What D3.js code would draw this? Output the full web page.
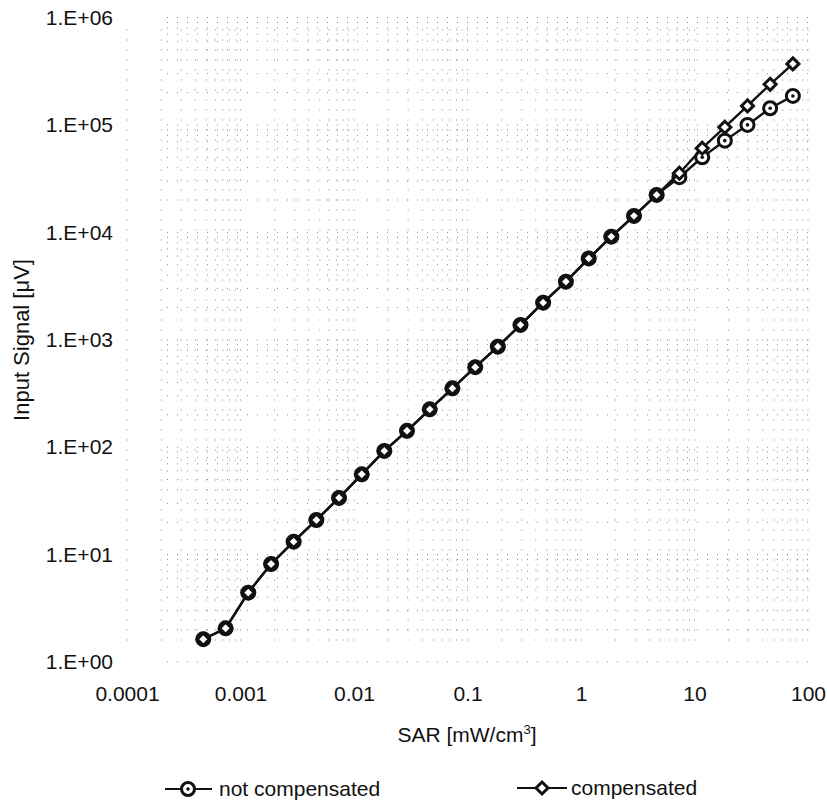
<!DOCTYPE html>
<meta charset="utf-8">
<style>
  body { margin: 0; background: #fff; }
  svg text { font-family: "Liberation Sans", Arial, sans-serif; fill: #111; }
  .grid line { stroke: #8a8a8a; stroke-dasharray: 1,9; stroke-width: 1; }
  .axis path, .axis line { display: none; }
  .axis text { font-size: 21px; }
</style>
<head>
  <title>SAR vs Input Signal</title>
  <script src="https://d3js.org/d3.v7.min.js"></script>
</head>
<body>
<div class="chart"></div>
<script>

// SAR [mW/cm3]
var sar = [0.00047, 0.00074, 0.00117, 0.00186, 0.00294, 0.00466, 0.00738, 0.0117, 0.0185,
           0.0293, 0.0465, 0.0736, 0.117, 0.185, 0.293, 0.464, 0.736, 1.17, 1.85,
           2.93, 4.64, 7.36, 11.7, 18.5, 29.3, 46.4, 73.6];

// input signal [uV]
var notCompensated = [1.63, 2.06, 4.42, 8.17, 13.2, 21.0, 33.7, 55.9, 92.3,
                      142, 225, 353, 555, 862, 1374, 2215, 3473, 5716, 9120,
                      14220, 22300, 32600, 50000, 71400, 100000, 143000, 186000];
var compensated    = [1.63, 2.06, 4.42, 8.17, 13.2, 21.0, 33.7, 55.9, 92.3,
                      142, 225, 353, 555, 862, 1374, 2215, 3473, 5716, 9120,
                      14220, 22300, 35500, 60700, 95200, 150300, 239000, 370000];

var xTicks = [0.0001, 0.001, 0.01, 0.1, 1, 10, 100];
var xTickLabels = ["0.0001", "0.001", "0.01", "0.1", "1", "10", "100"];
var yTicks = [1, 10, 100, 1000, 10000, 100000, 1000000];
var yTickLabels = ["1.E+00", "1.E+01", "1.E+02", "1.E+03", "1.E+04", "1.E+05", "1.E+06"];

var width = 827, height = 804;
var plot = {left: 127, right: 808, top: 17.5, bottom: 662};

var svg = d3.select(".chart").append("svg")
    .attr("width", width)
    .attr("height", height);

var x = d3.scaleLog().domain([0.0001, 100]).range([plot.left, plot.right]);
var y = d3.scaleLog().domain([1, 1000000]).range([plot.bottom, plot.top]);

// faint dotted log grid (what's left of it in the scan)
var xGrid = x.ticks(), yGrid = y.ticks();
var grid = svg.append("g").attr("class", "grid");
grid.selectAll(".gx").data(xGrid).enter().append("line")
    .attr("x1", function(d) { return x(d); }).attr("x2", function(d) { return x(d); })
    .attr("y1", plot.top + 12).attr("y2", plot.bottom - 20);
grid.selectAll(".gy").data(yGrid).enter().append("line")
    .attr("y1", function(d) { return y(d); }).attr("y2", function(d) { return y(d); })
    .attr("x1", plot.left + 40).attr("x2", plot.right);

// axes
var xAxis = d3.axisBottom(x).tickValues(xTicks).tickSize(0)
    .tickFormat(function(d, i) { return xTickLabels[i]; });
svg.append("g")
    .attr("class", "x axis")
    .attr("transform", "translate(0," + (plot.bottom + 24) + ")")
    .call(xAxis)
    .selectAll("text").attr("dy", "0.71em").attr("y", 0);

var yAxis = d3.axisLeft(y).tickValues(yTicks).tickSize(0)
    .tickFormat(function(d, i) { return yTickLabels[i]; });
svg.append("g")
    .attr("class", "y axis")
    .attr("transform", "translate(" + (plot.left - 14) + ",0)")
    .call(yAxis)
    .selectAll("text").attr("x", 0);

// axis titles
var xt = svg.append("text")
    .attr("x", 467).attr("y", 742)
    .attr("text-anchor", "middle")
    .style("font-size", "21px");
xt.append("tspan").text("SAR [mW/cm");
xt.append("tspan").attr("dy", "-8").style("font-size", "13px").text("3");
xt.append("tspan").attr("dy", "8").text("]");

svg.append("text")
    .attr("transform", "translate(29,340) rotate(-90)")
    .attr("text-anchor", "middle")
    .style("font-size", "22px")
    .text("Input Signal [\u03bcV]");

// series
var line = d3.line()
    .x(function(d) { return x(d[0]); })
    .y(function(d) { return y(d[1]); });

var ncData = sar.map(function(s, i) { return [s, notCompensated[i]]; });
var cData = sar.map(function(s, i) { return [s, compensated[i]]; });

function drawCircle(g, cx, cy) {
  g.append("circle").attr("cx", cx).attr("cy", cy).attr("r", 6.5)
    .attr("fill", "#fff").attr("stroke", "#111").attr("stroke-width", 3);
  g.append("circle").attr("cx", cx).attr("cy", cy).attr("r", 1.8).attr("fill", "#111");
}
function drawDiamond(g, cx, cy) {
  var s = 6;
  g.append("path")
    .attr("d", "M" + cx + "," + (cy - s) + "L" + (cx + s) + "," + cy + "L" + cx + "," + (cy + s) + "L" + (cx - s) + "," + cy + "Z")
    .attr("fill", "#fff").attr("stroke", "#111").attr("stroke-width", 3);
}

svg.append("path").datum(ncData)
    .attr("d", line).attr("fill", "none").attr("stroke", "#111").attr("stroke-width", 2.4);
var ncMarks = svg.append("g");
ncData.forEach(function(d) { drawCircle(ncMarks, x(d[0]), y(d[1])); });

svg.append("path").datum(cData)
    .attr("d", line).attr("fill", "none").attr("stroke", "#111").attr("stroke-width", 2.4);
var cMarks = svg.append("g");
cData.forEach(function(d) { drawDiamond(cMarks, x(d[0]), y(d[1])); });

// legend
var leg = svg.append("g");
leg.append("line").attr("x1", 165).attr("x2", 212).attr("y1", 789).attr("y2", 789)
    .attr("stroke", "#111").attr("stroke-width", 2);
drawCircle(leg, 188, 789);
leg.append("text").attr("x", 219).attr("y", 789).attr("dy", "0.35em")
    .style("font-size", "21px").text("not compensated");

leg.append("line").attr("x1", 517).attr("x2", 567).attr("y1", 788).attr("y2", 788)
    .attr("stroke", "#111").attr("stroke-width", 2);
drawDiamond(leg, 542, 788);
leg.append("text").attr("x", 571).attr("y", 788).attr("dy", "0.35em")
    .style("font-size", "21px").text("compensated");

</script>
</body>
